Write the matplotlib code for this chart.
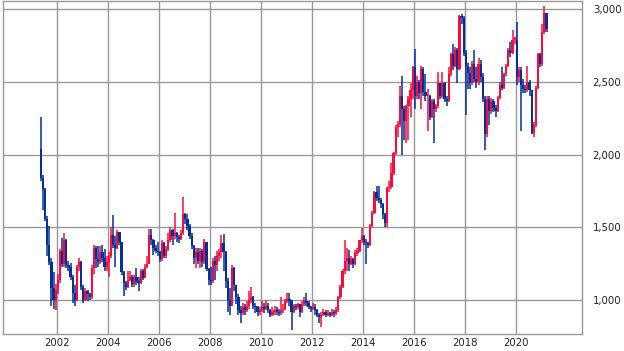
import matplotlib
matplotlib.use("Agg")
import matplotlib.pyplot as plt
import numpy as np
from matplotlib.ticker import FuncFormatter

# ---- data (monthly OHLC, open = previous close) ----
first_open = 2040
start_year, start_month = 2001, 5

close_2001 = [1840, 1760, 1560, 1380, 1260, 1080, 1000, 1070]
high_2001 = [2260, 1860, 1770, 1580, 1506, 1290, 1190, 1110]
low_2001 = [1820, 1620, 1540, 1300, 1240, 960, 940, 930]

close_2002 = [1140, 1340, 1250, 1410, 1240, 1230, 1160, 1050, 1000, 1230, 1260, 1090]
high_2002 = [1180, 1350, 1425, 1460, 1420, 1270, 1253, 1170, 1100, 1241, 1290, 1270]
low_2002 = [1040, 1120, 1230, 1230, 1220, 1200, 1140, 980, 960, 990, 1200, 1070]

close_2003 = [1000, 1060, 1040, 1020, 1220, 1360, 1280, 1260, 1330, 1290, 1230, 1260]
high_2003 = [1100, 1080, 1070, 1050, 1240, 1380, 1370, 1370, 1370, 1380, 1350, 1300]
low_2003 = [980, 990, 990, 1000, 1010, 1180, 1220, 1230, 1250, 1260, 1200, 1200]

close_2004 = [1300, 1450, 1380, 1360, 1470, 1400, 1190, 1120, 1090, 1140, 1160, 1110]
high_2004 = [1330, 1500, 1585, 1440, 1480, 1470, 1400, 1200, 1130, 1200, 1200, 1170]
low_2004 = [1160, 1290, 1360, 1230, 1350, 1380, 1170, 1030, 1070, 1080, 1130, 1090]

close_2005 = [1160, 1130, 1120, 1200, 1150, 1230, 1250, 1450, 1410, 1360, 1340, 1330]
high_2005 = [1170, 1220, 1160, 1210, 1210, 1250, 1300, 1485, 1485, 1420, 1380, 1400]
low_2005 = [1090, 1100, 1060, 1110, 1140, 1150, 1220, 1250, 1380, 1310, 1320, 1300]

close_2006 = [1280, 1390, 1300, 1350, 1410, 1480, 1440, 1460, 1430, 1420, 1460, 1590]
high_2006 = [1340, 1410, 1400, 1370, 1460, 1500, 1490, 1600, 1470, 1450, 1480, 1706]
low_2006 = [1260, 1270, 1290, 1290, 1340, 1400, 1380, 1420, 1400, 1390, 1410, 1450]

close_2007 = [1560, 1510, 1440, 1370, 1290, 1330, 1270, 1340, 1260, 1400, 1210, 1140]
high_2007 = [1600, 1590, 1520, 1460, 1380, 1360, 1360, 1360, 1350, 1420, 1400, 1220]
low_2007 = [1520, 1480, 1420, 1350, 1250, 1220, 1250, 1220, 1230, 1250, 1200, 1100]

close_2008 = [1130, 1270, 1240, 1300, 1330, 1390, 1330, 1130, 1000, 960, 1220, 1100]
high_2008 = [1230, 1290, 1300, 1340, 1350, 1447, 1451, 1340, 1150, 1080, 1240, 1230]
low_2008 = [1100, 1120, 1140, 1200, 1270, 1290, 1200, 1080, 920, 900, 960, 1060]

close_2009 = [1020, 930, 910, 950, 930, 960, 1000, 1020, 960, 950, 920, 930]
high_2009 = [1100, 1040, 960, 980, 970, 990, 1060, 1090, 1030, 980, 960, 950]
low_2009 = [970, 900, 844, 900, 900, 920, 940, 980, 940, 910, 890, 900]

close_2010 = [950, 940, 960, 930, 900, 920, 930, 920, 910, 930, 940, 990]
high_2010 = [990, 980, 1000, 980, 940, 950, 960, 950, 940, 1023, 970, 1010]
low_2010 = [920, 910, 930, 910, 880, 890, 900, 895, 890, 900, 910, 930]

close_2011 = [1010, 990, 920, 960, 950, 970, 920, 970, 990, 980, 950, 940]
high_2011 = [1046, 1050, 1000, 970, 970, 980, 970, 990, 1023, 1046, 990, 960]
low_2011 = [980, 960, 794, 910, 930, 940, 880, 910, 960, 960, 940, 920]

close_2012 = [955, 930, 900, 880, 900, 920, 900, 910, 900, 920, 910, 930]
high_2012 = [980, 970, 940, 910, 920, 940, 930, 930, 920, 940, 930, 950]
low_2012 = [930, 900, 880, 840, 817, 890, 880, 890, 885, 890, 885, 900]

close_2013 = [1020, 1090, 1200, 1270, 1290, 1250, 1280, 1250, 1320, 1340, 1410, 1440]
high_2013 = [1030, 1100, 1210, 1413, 1360, 1345, 1300, 1290, 1345, 1360, 1413, 1494]
low_2013 = [920, 1010, 1080, 1180, 1200, 1200, 1240, 1220, 1240, 1300, 1330, 1390]

close_2014 = [1400, 1390, 1380, 1510, 1600, 1740, 1700, 1690, 1660, 1590, 1530, 1770]
high_2014 = [1450, 1420, 1400, 1520, 1610, 1750, 1781, 1781, 1700, 1670, 1600, 1780]
low_2014 = [1380, 1250, 1360, 1370, 1500, 1590, 1680, 1670, 1630, 1560, 1505, 1505]

close_2015 = [1780, 1870, 2010, 2190, 2210, 2400, 2310, 2230, 2330, 2380, 2440, 2600]
high_2015 = [1820, 1940, 2020, 2200, 2230, 2470, 2539, 2330, 2340, 2400, 2493, 2610]
low_2015 = [1740, 1760, 1860, 2000, 2120, 2190, 2000, 2100, 2080, 2100, 2260, 2380]

close_2016 = [2400, 2500, 2420, 2590, 2430, 2400, 2400, 2260, 2370, 2310, 2330, 2490]
high_2016 = [2722, 2540, 2510, 2610, 2600, 2550, 2450, 2410, 2380, 2380, 2350, 2570]
low_2016 = [2310, 2380, 2380, 2310, 2400, 2370, 2160, 2240, 2250, 2080, 2290, 2320]

close_2017 = [2400, 2490, 2380, 2370, 2550, 2690, 2610, 2720, 2590, 2950, 2940, 2700]
high_2017 = [2490, 2570, 2500, 2400, 2600, 2700, 2757, 2740, 2730, 2960, 2965, 2950]
low_2017 = [2380, 2390, 2360, 2330, 2360, 2540, 2580, 2600, 2490, 2580, 2900, 2680]

close_2018 = [2610, 2560, 2490, 2620, 2520, 2500, 2620, 2530, 2380, 2140, 2380, 2300]
high_2018 = [2720, 2630, 2600, 2640, 2720, 2600, 2660, 2650, 2560, 2400, 2400, 2400]
low_2018 = [2270, 2450, 2450, 2480, 2500, 2460, 2480, 2500, 2360, 2030, 2120, 2200]

close_2019 = [2370, 2320, 2300, 2390, 2480, 2460, 2550, 2610, 2720, 2700, 2790, 2790]
high_2019 = [2390, 2380, 2340, 2400, 2500, 2600, 2560, 2620, 2730, 2770, 2857, 2810]
low_2019 = [2280, 2290, 2260, 2290, 2380, 2440, 2450, 2540, 2600, 2670, 2690, 2760]

close_2020 = [2530, 2580, 2480, 2450, 2440, 2500, 2440, 2150, 2200, 2460, 2690, 2620]
high_2020 = [2914, 2600, 2600, 2520, 2480, 2607, 2510, 2440, 2220, 2470, 2700, 2700]
low_2020 = [2480, 2500, 2160, 2420, 2420, 2430, 2400, 2140, 2120, 2190, 2450, 2600]

close_2021 = [2840, 2970, 2860]
high_2021 = [2900, 3020, 2910]
low_2021 = [2610, 2830, 2840]

y_ticks = [1000, 1500, 2000, 2500, 3000]
x_ticks = [2002, 2004, 2006, 2008, 2010, 2012, 2014, 2016, 2018, 2020]

years = range(2001, 2022)
closes = np.array(sum([globals()[f"close_{y}"] for y in years], []), float)
highs = np.array(sum([globals()[f"high_{y}"] for y in years], []), float)
lows = np.array(sum([globals()[f"low_{y}"] for y in years], []), float)
n = len(closes)
midx = np.arange(n) + (start_month - 1)
t = start_year + (midx + 0.5) / 12.0
opens = np.r_[first_open, closes[:-1]]

RED = "#FF0A3C"
BLUE = "#00309C"
cols = np.where(closes >= opens, RED, BLUE)

fig = plt.figure(figsize=(6.24, 3.51), dpi=100)
W, H = 624, 351
ax = fig.add_axes([3 / W, (H - 334.3) / H, (582.3 - 3) / W, (334.3 - 0.7) / H])

ax.vlines(t, lows, highs, colors=cols, linewidth=1.1, zorder=3)
body_b = np.minimum(opens, closes)
body_h = np.maximum(np.abs(closes - opens), 8)
ax.bar(t, body_h, bottom=body_b, width=1.05 / 12, color=cols, linewidth=0, zorder=3)

ax.set_xlim(1999.894, 2022.61)
ax.set_ylim(764.4, 3057)
ax.set_xticks(x_ticks)
ax.set_xticklabels([str(x) for x in x_ticks])
ax.set_yticks(y_ticks)
ax.yaxis.set_major_formatter(FuncFormatter(lambda v, p: f"{v:,.0f}"))
ax.yaxis.tick_right()
ax.tick_params(axis="y", length=0, pad=7.5, labelsize=7.3, labelcolor="#222222")
ax.tick_params(axis="x", length=0, pad=3, labelsize=7.3, labelcolor="#222222")
ax.grid(True, color="#999999", linewidth=1.0, zorder=0)
ax.set_axisbelow(True)
for s in ax.spines.values():
    s.set_color("#999999")
    s.set_linewidth(1.0)

fig.savefig("out.png", dpi=100)
